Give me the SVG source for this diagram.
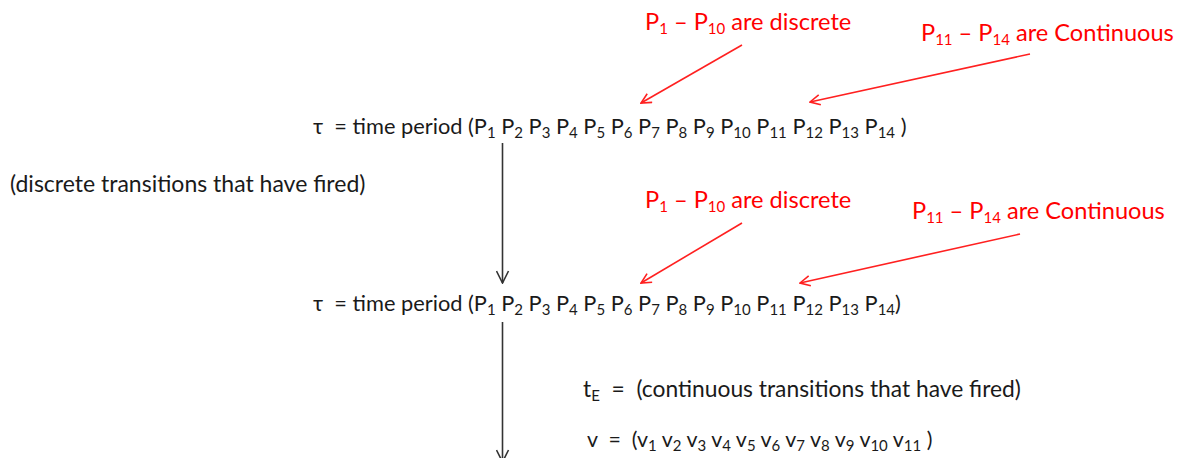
<svg xmlns="http://www.w3.org/2000/svg" width="1194" height="458" viewBox="0 0 1194 458">
<style>
text{font-family:Lato,"Open Sans",sans-serif;font-size:23px;fill:#1a1a1a;white-space:pre}
.r{fill:#ff0000;font-size:23.6px}
.t{font-size:21.8px}
.v{font-size:21.4px}
.e{font-size:22.8px}
.s{font-size:15px}
.ra{stroke:#ff2020;stroke-width:1.6;fill:none}
.ba{stroke:#333;stroke-width:1.6;fill:none}
</style>
<defs>
<marker id="rh" viewBox="0 0 12 12" refX="11" refY="6" markerWidth="12" markerHeight="12" markerUnits="userSpaceOnUse" orient="auto"><path d="M1,1 L11,6 L1,11" fill="none" stroke="#ff2020" stroke-width="1.6"/></marker>
<marker id="bh" viewBox="0 0 14 14" refX="13" refY="7" markerWidth="14" markerHeight="14" markerUnits="userSpaceOnUse" orient="auto"><path d="M1,1 L13,7 L1,13" fill="none" stroke="#333" stroke-width="1.6"/></marker>
</defs>
<g id="connectors">
<line class="ba" x1="502.5" y1="143" x2="502.5" y2="283" marker-end="url(#bh)"/>
<line class="ba" x1="502.5" y1="322" x2="502.5" y2="462" marker-end="url(#bh)"/>
<line class="ra" x1="742" y1="45" x2="641" y2="103" marker-end="url(#rh)"/>
<line class="ra" x1="1030" y1="54" x2="810" y2="102" marker-end="url(#rh)"/>
<line class="ra" x1="742" y1="223" x2="641" y2="283" marker-end="url(#rh)"/>
<line class="ra" x1="1020" y1="234" x2="800" y2="283" marker-end="url(#rh)"/>
</g>
<g id="label-discrete-1"><text class="r" x="645" y="30" xml:space="preserve">P<tspan class="s" dy="4">1</tspan><tspan dy="-4"> – P</tspan><tspan class="s" dy="4">10</tspan><tspan dy="-4"> are discrete</tspan></text></g>
<g id="label-continuous-1"><text class="r" x="921" y="41" xml:space="preserve">P<tspan class="s" dy="4">11</tspan><tspan dy="-4"> – P</tspan><tspan class="s" dy="4">14</tspan><tspan dy="-4"> are Continuous</tspan></text></g>
<g id="node-tau-1"><text class="t" x="313" y="134" xml:space="preserve">τ  = time period (P<tspan class="s" dy="4">1</tspan><tspan dy="-4"> P</tspan><tspan class="s" dy="4">2</tspan><tspan dy="-4"> P</tspan><tspan class="s" dy="4">3</tspan><tspan dy="-4"> P</tspan><tspan class="s" dy="4">4</tspan><tspan dy="-4"> P</tspan><tspan class="s" dy="4">5</tspan><tspan dy="-4"> P</tspan><tspan class="s" dy="4">6</tspan><tspan dy="-4"> P</tspan><tspan class="s" dy="4">7</tspan><tspan dy="-4"> P</tspan><tspan class="s" dy="4">8</tspan><tspan dy="-4"> P</tspan><tspan class="s" dy="4">9</tspan><tspan dy="-4"> P</tspan><tspan class="s" dy="4">10</tspan><tspan dy="-4"> P</tspan><tspan class="s" dy="4">11</tspan><tspan dy="-4"> P</tspan><tspan class="s" dy="4">12</tspan><tspan dy="-4"> P</tspan><tspan class="s" dy="4">13</tspan><tspan dy="-4"> P</tspan><tspan class="s" dy="4">14</tspan><tspan dy="-4"> )</tspan></text></g>
<g id="label-fired"><text x="10" y="192">(discrete transitions that have fired)</text></g>
<g id="label-discrete-2"><text class="r" x="645" y="208" xml:space="preserve">P<tspan class="s" dy="4">1</tspan><tspan dy="-4"> – P</tspan><tspan class="s" dy="4">10</tspan><tspan dy="-4"> are discrete</tspan></text></g>
<g id="label-continuous-2"><text class="r" x="912" y="219" xml:space="preserve">P<tspan class="s" dy="4">11</tspan><tspan dy="-4"> – P</tspan><tspan class="s" dy="4">14</tspan><tspan dy="-4"> are Continuous</tspan></text></g>
<g id="node-tau-2"><text class="t" x="313" y="311" xml:space="preserve">τ  = time period (P<tspan class="s" dy="4">1</tspan><tspan dy="-4"> P</tspan><tspan class="s" dy="4">2</tspan><tspan dy="-4"> P</tspan><tspan class="s" dy="4">3</tspan><tspan dy="-4"> P</tspan><tspan class="s" dy="4">4</tspan><tspan dy="-4"> P</tspan><tspan class="s" dy="4">5</tspan><tspan dy="-4"> P</tspan><tspan class="s" dy="4">6</tspan><tspan dy="-4"> P</tspan><tspan class="s" dy="4">7</tspan><tspan dy="-4"> P</tspan><tspan class="s" dy="4">8</tspan><tspan dy="-4"> P</tspan><tspan class="s" dy="4">9</tspan><tspan dy="-4"> P</tspan><tspan class="s" dy="4">10</tspan><tspan dy="-4"> P</tspan><tspan class="s" dy="4">11</tspan><tspan dy="-4"> P</tspan><tspan class="s" dy="4">12</tspan><tspan dy="-4"> P</tspan><tspan class="s" dy="4">13</tspan><tspan dy="-4"> P</tspan><tspan class="s" dy="4">14</tspan><tspan dy="-4">)</tspan></text></g>
<g id="node-te"><text class="e" x="583" y="397" xml:space="preserve">t<tspan class="s" dy="4">E</tspan><tspan dy="-4">  =  (continuous transitions that have fired)</tspan></text></g>
<g id="node-v"><text class="v" x="587" y="447" xml:space="preserve">v  =  (v<tspan class="s" dy="4">1</tspan><tspan dy="-4"> v</tspan><tspan class="s" dy="4">2</tspan><tspan dy="-4"> v</tspan><tspan class="s" dy="4">3</tspan><tspan dy="-4"> v</tspan><tspan class="s" dy="4">4</tspan><tspan dy="-4"> v</tspan><tspan class="s" dy="4">5</tspan><tspan dy="-4"> v</tspan><tspan class="s" dy="4">6</tspan><tspan dy="-4"> v</tspan><tspan class="s" dy="4">7</tspan><tspan dy="-4"> v</tspan><tspan class="s" dy="4">8</tspan><tspan dy="-4"> v</tspan><tspan class="s" dy="4">9</tspan><tspan dy="-4"> v</tspan><tspan class="s" dy="4">10</tspan><tspan dy="-4"> v</tspan><tspan class="s" dy="4">11</tspan><tspan dy="-4"> )</tspan></text></g>
</svg>
